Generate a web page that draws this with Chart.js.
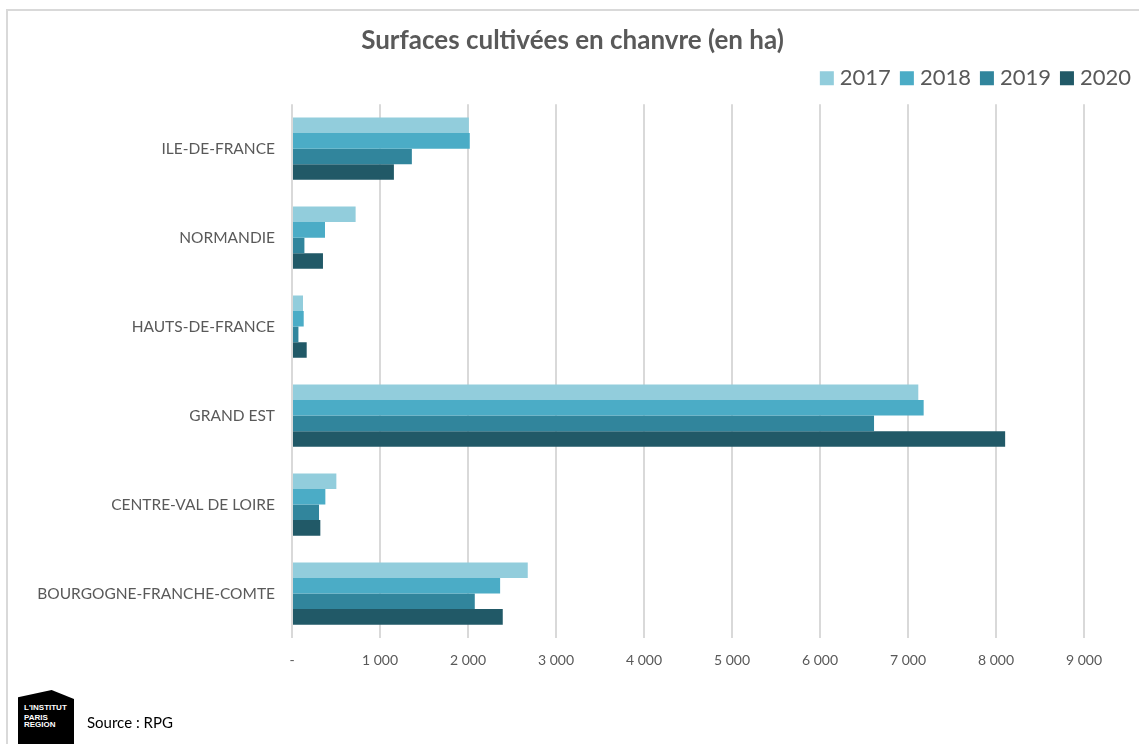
<!DOCTYPE html>
<html>
<head>
<meta charset="utf-8">
<script src="https://cdn.jsdelivr.net/npm/chart.js@4/dist/chart.umd.min.js"></script>
<style>
  body { margin: 0; background: #fff; font-family: Lato, "Open Sans", sans-serif; }
  #wrap { position: relative; width: 1139px; height: 744px; overflow: hidden; }
  #frame { position: absolute; left: 6px; top: 9px; width: 1200px; height: 800px;
           border-left: 2px solid #d9d9d9; border-top: 2px solid #d9d9d9; }
  canvas { position: absolute; left: 0; top: 0; }
  #logo { position: absolute; left: 18px; top: 690px; width: 56px; height: 60px; background: #000;
          clip-path: polygon(0 12%, 60% 0, 100% 15%, 100% 100%, 0 100%);
          color: #fff; font: bold 8px "Liberation Sans", sans-serif; line-height: 8px; }
  #logo div { position: absolute; left: 6px; }
  #source { position: absolute; left: 87px; top: 713px; font: 15px Lato, sans-serif; color: #000; }
</style>
</head>
<body>
<div id="wrap">
  <div id="frame"></div>
  <canvas id="hempChart" width="1145" height="744"></canvas>
  <div id="logo"><div style="top:14px">L'INSTITUT</div><div style="top:24px">PARIS</div><div style="top:31px">REGION</div></div>
  <div id="source">Source : RPG</div>
</div>
<script>
const regions = ['ILE-DE-FRANCE', 'NORMANDIE', 'HAUTS-DE-FRANCE', 'GRAND EST', 'CENTRE-VAL DE LOIRE', 'BOURGOGNE-FRANCHE-COMTE'];
const years = ['2017', '2018', '2019', '2020'];
const ha2017 = [2010, 723, 125, 7117, 504, 2679];
const ha2018 = [2020, 375, 133, 7178, 379, 2365];
const ha2019 = [1362, 141, 73, 6614, 307, 2077];
const ha2020 = [1158, 352, 167, 8104, 322, 2395];
const colors = ['#92cddc', '#4bacc6', '#31859c', '#215967'];

function fmt(v) {
    if (v === 0) return '-';
    return String(v).replace(/\B(?=(\d{3})+(?!\d))/g, ' ');
}

// empty axes used only as spacers (right margin, gap under legend)
const spacer = (pos, size) => ({
    position: pos,
    display: true,
    ticks: { display: false },
    grid: { display: false },
    border: { display: false },
    afterFit: s => { if (pos === 'right') s.width = size; else s.height = size; }
});

const ctx = document.getElementById('hempChart').getContext('2d');
const chart = new Chart(ctx, {
    type: 'bar',
    data: {
        labels: regions,
        datasets: [ha2017, ha2018, ha2019, ha2020].map((d, i) => ({
            label: years[i],
            data: d,
            backgroundColor: colors[i],
            borderWidth: 0,
            categoryPercentage: 0.7,
            barPercentage: 1.0
        }))
    },
    options: {
        indexAxis: 'y',
        responsive: false,
        animation: false,
        layout: { padding: { left: 0, right: 0, top: 0, bottom: 56 } },
        plugins: {
            title: {
                display: true,
                text: 'Surfaces cultivées en chanvre (en ha)',
                color: '#595959',
                font: { family: 'Lato', size: 26, weight: 'bold' },
                padding: { top: 25, bottom: -3 }
            },
            legend: {
                position: 'top',
                align: 'end',
                labels: {
                    color: '#595959',
                    font: { family: 'Lato', size: 22 },
                    usePointStyle: true,
                    pointStyle: 'rect',
                    boxWidth: 4,   // narrow slot so the text sits close to the square
                    boxHeight: 14,
                    padding: 14
                }
            },
            tooltip: { enabled: false }
        },
        scales: {
            x: {
                min: 0,
                max: 9000,
                ticks: {
                    stepSize: 1000,
                    color: '#595959',
                    font: { family: 'Lato', size: 14 },
                    padding: 14,
                    callback: v => fmt(v)
                },
                grid: { color: '#d9d9d9', lineWidth: 2, drawTicks: false },
                border: { display: false },
                afterFit: s => { s.height = 50; }
            },
            y: {
                ticks: {
                    color: '#595959',
                    font: { family: 'Lato', size: 15.5 },
                    padding: 17
                },
                grid: { display: false, drawTicks: false },
                border: { display: false },
                afterFit: s => { s.width = 292; }
            },
            x2: Object.assign({ axis: 'x', type: 'linear' }, spacer('top', 5)),
            y2: Object.assign({ axis: 'y', type: 'category' }, spacer('right', 61))
        }
    }
});
</script>
</body>
</html>
